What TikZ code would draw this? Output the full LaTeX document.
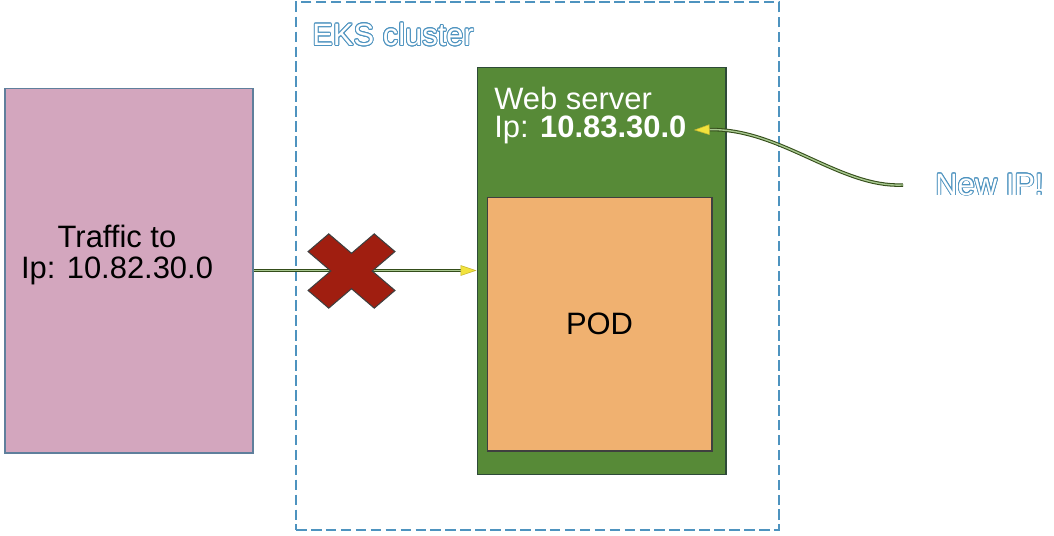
\documentclass[tikz,border=0pt]{standalone}
\usepackage{fontspec}
\setmainfont{Liberation Sans}
\usepackage[copies]{contour}
\usetikzlibrary{arrows.meta}
\contourlength{0.5pt}
\contournumber{16}
\definecolor{pinkbox}{HTML}{D3A6BE}
\definecolor{pinkedge}{HTML}{5F7F9C}
\definecolor{webgreen}{HTML}{578A37}
\definecolor{webedge}{HTML}{2E4A38}
\definecolor{podorange}{HTML}{F0B170}
\definecolor{podedge}{HTML}{3F3F3F}
\definecolor{eksblue}{HTML}{4E93BF}
\definecolor{crossred}{HTML}{A01E10}
\definecolor{wireout}{HTML}{344D1A}
\definecolor{wirein}{HTML}{A8C890}
\definecolor{tipyellow}{HTML}{F2E23C}
\begin{document}
\begin{tikzpicture}[
    x=0.02cm, y=-0.02cm,
    every node/.style={font=\fontsize{17.6}{17.5}\selectfont},
    box/.style={
        draw,
        line width=0.6pt,
        inner sep=0pt
    },
    lbl/.style={inner sep=0pt, anchor=west},
    wire/.style={
        draw=wireout,
        double=wirein,
        double distance=0.8pt,
        line width=0.6pt,
        -{Triangle[length=9pt, width=6pt, fill=tipyellow, color=tipyellow!80!black, line width=0.3pt]}
    }
]
    \useasboundingbox (0,0) rectangle (1054,535);

    % Traffic source
    \node[box, fill=pinkbox, draw=pinkedge, minimum width=4.96cm, minimum height=7.30cm] (traffic) at (129,270.5) {};
    \node[align=center, inner sep=0pt] (traffictxt) at (117,255) {Traffic to\\Ip: 10.82.30.0};

    % EKS cluster
    \node[box, draw=eksblue, line width=0.8pt, dash pattern=on 6pt off 2.5pt, minimum width=9.66cm, minimum height=10.56cm] (eks) at (537.5,266) {};
    \node[lbl, text=white] (ekslbl) at (312,35) {\contour{eksblue}{EKS cluster}};

    % Web server
    \node[box, fill=webgreen, draw=webedge, minimum width=4.98cm, minimum height=8.16cm] (web) at (601.5,271) {};
    \node[lbl, text=white] (websrv) at (494,98) {Web server};
    \node[lbl, text=white] (webip) at (494,130) {Ip: \textbf{10.83.30.0}};
    \node[box, fill=podorange, draw=podedge, minimum width=4.50cm, minimum height=5.08cm] (pod) at (599.5,324) {POD};

    % New IP
    \node[lbl, text=white] (newip) at (935,185) {\contour{eksblue}{New IP!}};
    \coordinate (ipsrc) at (903,185);

    % Connectors
    \draw[wire] (traffic.east) -- (traffic.east -| web.west);
    \draw[wire] (ipsrc) .. controls (840,188) and (780,128) .. ([xshift=4pt]webip.east);

    % Blocked
    \begin{scope}[shift={(351.5,271)}, xscale=1.17, rotate=45]
        \filldraw[fill=crossred, draw=podedge, line width=0.6pt]
            (12.5,12.5) -- (12.5,40) -- (-12.5,40) -- (-12.5,12.5) -- (-40,12.5) -- (-40,-12.5)
            -- (-12.5,-12.5) -- (-12.5,-40) -- (12.5,-40) -- (12.5,-12.5) -- (40,-12.5) -- (40,12.5) -- cycle;
    \end{scope}

\end{tikzpicture}
\end{document}
